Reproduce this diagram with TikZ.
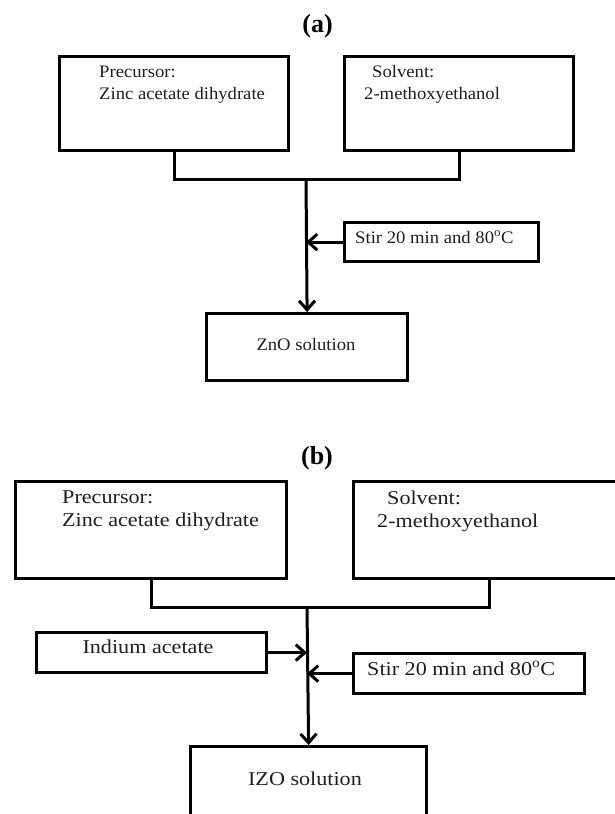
\documentclass[tikz,border=0pt]{standalone}
\usepackage{fontspec}
\setmainfont{Liberation Serif}
\newfontfamily\fa[FakeStretch=1.06]{Liberation Serif}
\newfontfamily\fb[FakeStretch=1.13]{Liberation Serif}
\usetikzlibrary{arrows.meta}
\begin{document}
\begin{tikzpicture}[x=1pt,y=-1pt,
  box/.style={draw, line width=3.2pt, inner sep=0pt, anchor=north west},
  ta/.style={inner sep=0pt, anchor=base west, text=black!88, font=\fa\fontsize{17.6}{20}\selectfont},
  tb/.style={inner sep=0pt, anchor=base west, text=black!88, font=\fb\fontsize{19.6}{22}\selectfont},
  ttl/.style={inner sep=0pt, anchor=base, font=\bfseries\fontsize{26}{30}\selectfont},
  arr/.style={line width=3pt, -{Straight Barb[length=9pt,width=16pt,line width=3pt]}},
  ln/.style={line width=3pt}]
\useasboundingbox (0,0) rectangle (615,814);
\clip (0,0) rectangle (615,814);
% ---------- panel (a)
\node[ttl] (tta) at (317.5,32) {(a)};
\node[box, minimum width=229pt, minimum height=94pt] (pa) at (58,55) {};
\node[box, minimum width=229pt, minimum height=94pt] (sa) at (343,55) {};
\node[ta] (pat1) at (99,77) {Precursor:};
\node[ta] (pat2) at (99,99) {Zinc acetate dihydrate};
\node[ta] (sat1) at (372,77) {Solvent:};
\node[ta] (sat2) at (364,99) {2-methoxyethanol};
\node[box, minimum width=194pt, minimum height=39pt] (ra) at (343,221) {};
\node[ta] (rat) at (355,243) {Stir 20 min and 80\textsuperscript{o}C};
\node[box, minimum width=201pt, minimum height=67pt] (za) at (205,312) {};
\node[ta, anchor=base] (zat) at (306,350) {ZnO solution};
\coordinate (ja) at (306,179);
\draw[ln] (pa.south) |- (ja) -| (sa.south);
\draw[arr] (ja) -- (za.north);
\draw[arr] (ra.west) -- (ra.west -| ja);
% ---------- panel (b)
\node[ttl] (ttb) at (317,464) {(b)};
\node[box, minimum width=271pt, minimum height=97pt] (pb) at (14,480) {};
\node[box, minimum width=272pt, minimum height=97pt] (sb) at (352,480) {};
\node[tb] (pbt1) at (62,503) {Precursor:};
\node[tb] (pbt2) at (62,526) {Zinc acetate dihydrate};
\node[tb] (sbt1) at (387,504) {Solvent:};
\node[tb] (sbt2) at (377,527) {2-methoxyethanol};
\coordinate (jb) at (307,607);
\node[box, minimum width=230pt, minimum height=40pt] (ib) at (35,631) {};
\node[tb, anchor=base] (ibt) at (148,653) {Indium acetate};
\node[box, minimum width=231pt, minimum height=40pt] (rb) at (352,652) {};
\node[tb] (rbt) at (367,675) {Stir 20 min and 80\textsuperscript{o}C};
\node[box, minimum width=236pt, minimum height=70pt] (zb) at (189,745) {};
\node[tb, anchor=base] (zbt) at (305,785) {IZO solution};
\draw[ln] (pb.south) |- (jb) -| (sb.south);
\draw[arr] (jb) -- (zb.north);
\draw[arr] (ib.east) -- (ib.east -| jb);
\draw[arr] (rb.west) -- (rb.west -| jb);
\end{tikzpicture}
\end{document}
